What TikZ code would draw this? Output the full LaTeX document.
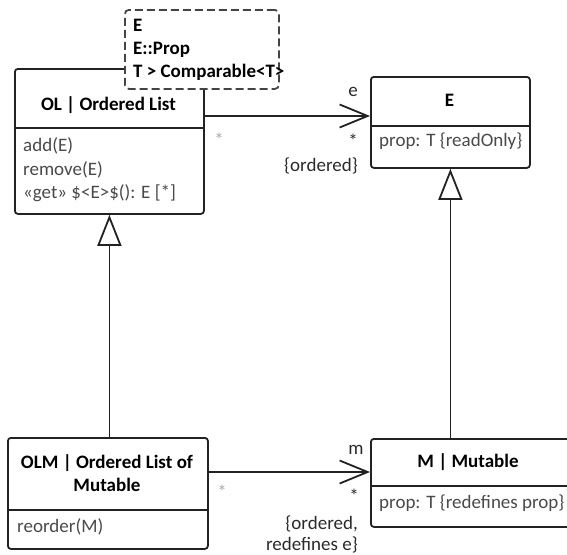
\documentclass[tikz,border=0pt]{standalone}
\usepackage{fontspec}
\setmainfont{Carlito}
\usetikzlibrary{arrows.meta}
\definecolor{edge}{HTML}{222222}
\definecolor{dashedge}{HTML}{444444}
\definecolor{bodytxt}{HTML}{4A4A4A}
\definecolor{labeltxt}{HTML}{2A2A2A}
\definecolor{faint}{HTML}{AAAAAA}
\begin{document}
\begin{tikzpicture}[x=1pt,y=-1pt,
  classbox/.style={draw=edge, line width=1.8pt, rounded corners=3pt, fill=white,
    inner sep=0pt, anchor=north west},
  tplbox/.style={draw=dashedge, line width=1.8pt, dash pattern=on 8pt off 4pt,
    rounded corners=4pt, fill=white, inner sep=0pt, anchor=north west},
  divider/.style={draw=edge, line width=1.8pt},
  txt/.style={inner sep=0pt, font=\fontsize{19}{23}\selectfont,
    text height=13pt, text depth=4pt},
  hdr/.style={txt, font=\bfseries\fontsize{19}{23}\selectfont, text=black},
  attr/.style={txt, anchor=west, text=bodytxt},
  tpl/.style={hdr, anchor=west},
  role/.style={txt, text=labeltxt},
  faintmult/.style={txt, text=faint},
  assoc/.style={draw=edge, line width=1.8pt,
    -{Straight Barb[length=28pt, width=23pt, line width=1.8pt]}},
  gen/.style={draw=edge, line width=1.8pt,
    -{Triangle[open, fill=white, length=31pt, width=24pt, line width=1.8pt]}},
]
\useasboundingbox (0,0) rectangle (567,554);
\clip (0,0) rectangle (567,554);

% ---- OL | Ordered List
\node[classbox, minimum width=189pt, minimum height=145pt] (OL) at (14,68) {};
\coordinate (olsep) at (0,128);
\draw[divider] (OL.west |- olsep) -- (OL.east |- olsep);
\node[hdr] (olname) at (108.5,106) {OL | Ordered List};
\node[attr] (ol1) at (23,147) {add(E)};
\node[attr] (ol2) at (23,171) {remove(E)};
\node[attr] (ol3) at (23,194) {«get» \$<E>\$(): E [*]};

% ---- template parameters
\node[tplbox, minimum width=154pt, minimum height=79pt] (TPL) at (124,9) {};
\node[tpl] (tp1) at (133,27) {E};
\node[tpl] (tp2) at (133,50) {E::Prop};
\node[tpl] (tp3) at (133,73) {T > Comparable<T>};

% ---- E
\node[classbox, minimum width=159pt, minimum height=91pt] (E) at (370,76) {};
\coordinate (esep) at (0,126);
\draw[divider] (E.west |- esep) -- (E.east |- esep);
\node[hdr] (ename) at (449.5,102) {E};
\node[attr] (e1) at (379,142) {prop: T \{readOnly\}};

% ---- OLM | Ordered List of Mutable
\node[classbox, minimum width=200pt, minimum height=111pt] (OLM) at (7,437) {};
\coordinate (olmsep) at (0,510);
\draw[divider] (OLM.west |- olmsep) -- (OLM.east |- olmsep);
\node[hdr] (olmname1) at (107,464) {OLM | Ordered List of};
\node[hdr] (olmname2) at (107,487) {Mutable};
\node[attr] (olm1) at (17,528) {reorder(M)};

% ---- M | Mutable
\node[classbox, minimum width=204pt, minimum height=88pt] (M) at (370,438) {};
\coordinate (msep) at (0,486);
\draw[divider] (M.west |- msep) -- (M.east |- msep);
\node[hdr] (mname) at (468,463) {M | Mutable};
\node[attr] (m1) at (379,504) {prop: T \{redefines prop\}};

% ---- associations
\coordinate (a1) at (0,116);
\draw[assoc] (OL.east |- a1) -- (E.west |- a1);
\node[role] (a1role) at (353,92) {e};
\node[role] (a1mult) at (353,143) {*};
\node[role, anchor=east] (a1prop) at (358,167) {\{ordered\}};
\node[faintmult] (a1src) at (219,142) {*};

\coordinate (a2) at (0,472);
\draw[assoc] (OLM.east |- a2) -- (M.west |- a2);
\node[role] (a2role) at (356,450) {m};
\node[role] (a2mult) at (354,498) {*};
\node[role, anchor=east] (a2prop1) at (358,525) {\{ordered,};
\node[role, anchor=east] (a2prop2) at (358,546) {redefines e\}};
\node[faintmult] (a2src) at (222,494) {*};

% ---- generalizations
\draw[gen] (OLM.north -| OL.south) -- (OL.south);
\draw[gen] (M.north -| E.south) -- (E.south);
\end{tikzpicture}
\end{document}
